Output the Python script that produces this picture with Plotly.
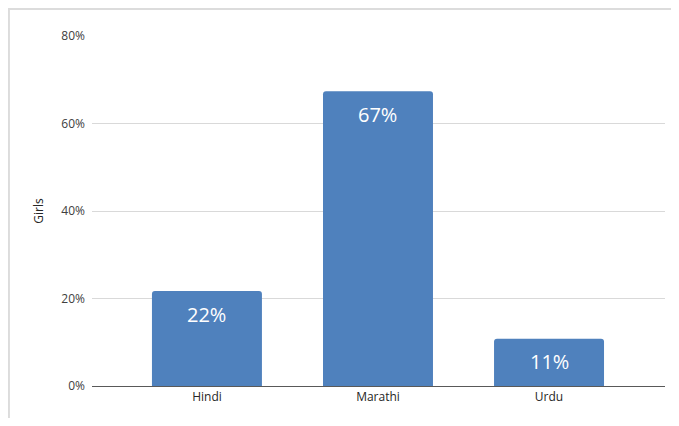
"""Bar chart: share of girls by language medium."""

import plotly.graph_objects as go

languages = ["Hindi", "Marathi", "Urdu"]
girls_share = [0.217, 0.674, 0.108]
bar_labels = ["22%", "67%", "11%"]
y_ticks = [0, 0.2, 0.4, 0.6, 0.8]
y_tick_labels = ["0%", "20%", "40%", "60%", "80%"]

BAR_COLOR = "#4F81BD"
FONT = "Open Sans, Lato, sans-serif"

fig = go.Figure(
    go.Bar(
        x=languages,
        y=girls_share,
        marker={"color": BAR_COLOR, "line": {"width": 0}, "cornerradius": 3},
        hoverinfo="skip",
    )
)

# value labels sit a little below the top of each bar
for lang, val, lab in zip(languages, girls_share, bar_labels):
    fig.add_annotation(
        x=lang, y=val, text=lab, showarrow=False,
        yshift=-23, font={"size": 20, "color": "white", "family": FONT},
    )

# faint frame around the chart area (right/bottom edges run off the page)
fig.add_shape(
    type="rect", xref="paper", yref="paper",
    x0=-0.145, x1=1.2, y0=-0.3, y1=1.077,
    line={"color": "#dcdcdc", "width": 2}, layer="below",
)

# page body has an 8px margin, so the figure is a bit smaller than the window
fig.update_layout(
    width=663,
    height=410,
    margin={"l": 84, "r": 6, "t": 28, "b": 32},
    paper_bgcolor="white",
    plot_bgcolor="white",
    font={"family": FONT, "size": 12, "color": "#404040"},
    bargap=0.357,
    showlegend=False,
    xaxis={
        "range": [-0.672, 2.678],
        "showgrid": False,
        "showline": True,
        "linecolor": "#595959",
        "linewidth": 1,
        "ticks": "",
        "tickfont": {"size": 12, "color": "#262626"},
    },
    yaxis={
        "range": [0, 0.8],
        "tickvals": y_ticks,
        "ticktext": y_tick_labels,
        "showgrid": True,
        "gridcolor": "#d9d9d9",
        "gridwidth": 1,
        "zeroline": False,
        "showline": False,
        "ticks": "",
        "ticklabelstandoff": 6,
        "tickfont": {"size": 12, "color": "#404040"},
        "title": {"text": "Girls", "font": {"size": 12, "color": "#262626"}, "standoff": 15},
    },
)

fig.write_html("out.html")
